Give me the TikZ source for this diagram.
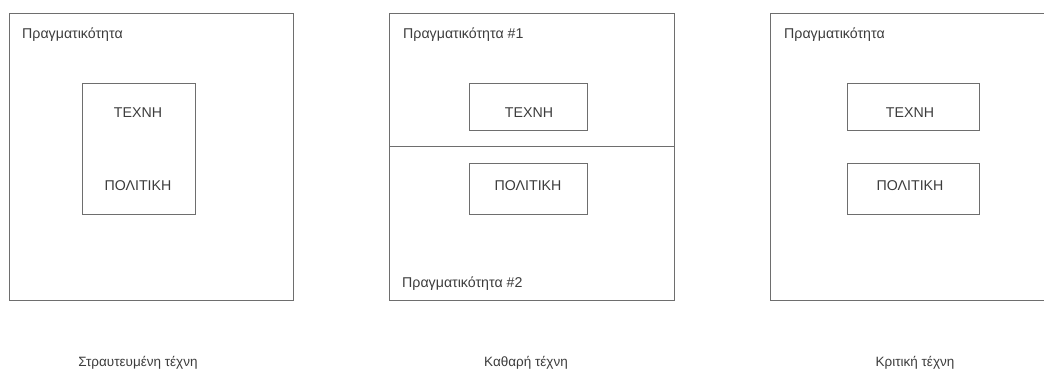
\documentclass[tikz,border=0pt]{standalone}
\usepackage{fontspec}
\setmainfont{Liberation Sans}
\usepackage{xcolor}
\usetikzlibrary{positioning}

\definecolor{linegray}{HTML}{6E6E6E}
\definecolor{textgray}{HTML}{3C3C3C}

\tikzset{
    frame/.style={draw=linegray, line width=0.8pt},
    lbl/.style={text=textgray, inner sep=0pt, font=\fontsize{14.2}{16}\selectfont},
    caption/.style={lbl, font=\fontsize{13.5}{16}\selectfont}
}

\begin{document}
\begin{tikzpicture}[x=1pt, y=-1pt]
    \useasboundingbox (0,0) rectangle (1044,369);
    \clip (0,0) rectangle (1044,369);

    % Panel 1: art inside politics
    \draw[frame] (9,13) rectangle (293,300);
    \node[lbl, anchor=mid west] (real1) at (22,36) {Πραγματικότητα};
    \draw[frame] (82,83) rectangle (195,214);
    \node[lbl, anchor=mid] (art1) at (138,115) {ΤΕΧΝΗ};
    \node[lbl, anchor=mid] (pol1) at (138,188) {ΠΟΛΙΤΙΚΗ};
    \node[caption, anchor=mid] (cap1) at (138,364) {Στραυτευμένη τέχνη};

    % Panel 2: two separate realities
    \draw[frame] (389,13) rectangle (674,300);
    \draw[frame] (389,146) -- (674,146);
    \node[lbl, anchor=mid west] (real2a) at (403,36) {Πραγματικότητα \#1};
    \node[lbl, anchor=mid west] (real2b) at (402,285) {Πραγματικότητα \#2};
    \draw[frame] (469,83) rectangle (587,130);
    \node[lbl, anchor=mid] (art2) at (529,115) {ΤΕΧΝΗ};
    \draw[frame] (469,163) rectangle (587,214);
    \node[lbl, anchor=mid] (pol2) at (528,188) {ΠΟΛΙΤΙΚΗ};
    \node[caption, anchor=mid] (cap2) at (526,364) {Καθαρή τέχνη};

    % Panel 3: one reality, separate boxes
    \draw[frame] (770,13) rectangle (1060,300);
    \node[lbl, anchor=mid west] (real3) at (784,36) {Πραγματικότητα};
    \draw[frame] (847,83) rectangle (979,130);
    \node[lbl, anchor=mid] (art3) at (910,115) {ΤΕΧΝΗ};
    \draw[frame] (847,163) rectangle (979,214);
    \node[lbl, anchor=mid] (pol3) at (910,188) {ΠΟΛΙΤΙΚΗ};
    \node[caption, anchor=mid] (cap3) at (915,364) {Κριτική τέχνη};
\end{tikzpicture}
\end{document}
